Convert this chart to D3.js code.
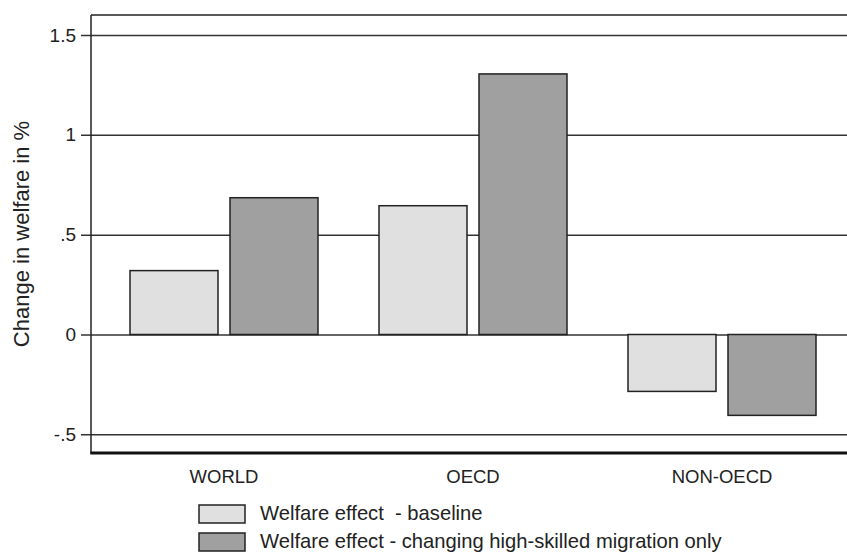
<!DOCTYPE html>
<html><head><meta charset="utf-8">
<script src="https://cdn.jsdelivr.net/npm/d3@7"></script>
<style>body{margin:0;background:#fff}svg{display:block;font-family:"Liberation Sans",Arial,sans-serif}</style>
</head><body><svg id="c" width="847" height="554"></svg>
<script>
const categories = ["WORLD", "OECD", "NON-OECD"];
const seriesNames = ["Welfare effect  - baseline", "Welfare effect - changing high-skilled migration only"];
const baseline = [0.32, 0.645, -0.285];
const highSkilled = [0.685, 1.305, -0.405];
const yTicks = [-0.5, 0, 0.5, 1, 1.5];
const yTickLabels = ["-.5", "0", ".5", "1", "1.5"];
const colors = ["#e0e0e0", "#a0a0a0"];

(function () {
const svg = d3.select("#c");
const pL = 91, pT = 15, pB = 453, pR = 847;
const txt = "#222";
const y = d3.scaleLinear().domain([0, 1.5]).range([334.5, 35]);
const x = d3.scaleBand().domain(categories).range([99.5, 846.5]).padding(0);
const xs = d3.scaleBand().domain([0, 1]).range([30.5, x.bandwidth() - 30.5]).paddingInner(0.12);

const yAxis = d3.axisLeft(y).tickValues(yTicks).tickFormat((d, i) => yTickLabels[i])
  .tickSize(-(pR - pL)).tickSizeOuter(0).tickPadding(15);
const ga = svg.append("g").attr("transform", `translate(${pL},0)`).call(yAxis);
ga.select(".domain").remove();
ga.selectAll(".tick line").attr("x1", -10).attr("stroke", "#333").attr("stroke-width", 1.5);
ga.selectAll(".tick text").attr("font-size", 19).attr("fill", txt).attr("font-family", "Liberation Sans, Arial, sans-serif");

svg.append("line").attr("x1", pL).attr("x2", pR).attr("y1", pT).attr("y2", pT).attr("stroke", "#222").attr("stroke-width", 1.5);
svg.append("line").attr("x1", pL).attr("x2", pL).attr("y1", pT).attr("y2", pB).attr("stroke", "#222").attr("stroke-width", 1.5);
svg.append("line").attr("x1", pL - 0.75).attr("x2", pR).attr("y1", pB).attr("y2", pB).attr("stroke", "#111").attr("stroke-width", 3);

const series = [baseline, highSkilled];
series.forEach((vals, si) => {
  svg.append("g").selectAll("rect").data(vals).join("rect")
    .attr("x", (d, i) => x(categories[i]) + xs(si))
    .attr("width", xs.bandwidth())
    .attr("y", d => y(Math.max(0, d)))
    .attr("height", d => Math.abs(y(d) - y(0)))
    .attr("fill", colors[si]).attr("stroke", "#222").attr("stroke-width", 1.5);
});

svg.append("g").selectAll("text").data(categories).join("text")
  .attr("x", d => x(d) + x.bandwidth() / 2).attr("y", 483)
  .attr("text-anchor", "middle").attr("font-size", 18.5).attr("fill", txt).text(d => d);

svg.append("text").attr("transform", "translate(29,234) rotate(-90)")
  .attr("text-anchor", "middle").attr("font-size", 22).attr("fill", txt).text("Change in welfare in %");

const lg = svg.append("g").selectAll("g").data(seriesNames).join("g")
  .attr("transform", (d, i) => `translate(199,${505 + i * 28})`);
lg.append("rect").attr("width", 46).attr("height", 18).attr("fill", (d, i) => colors[i]).attr("stroke", "#222").attr("stroke-width", 1.5);
lg.append("text").attr("x", 61).attr("y", 15).attr("font-size", 20.2).attr("fill", txt).style("white-space", "pre").text(d => d);
})();
</script></body></html>
